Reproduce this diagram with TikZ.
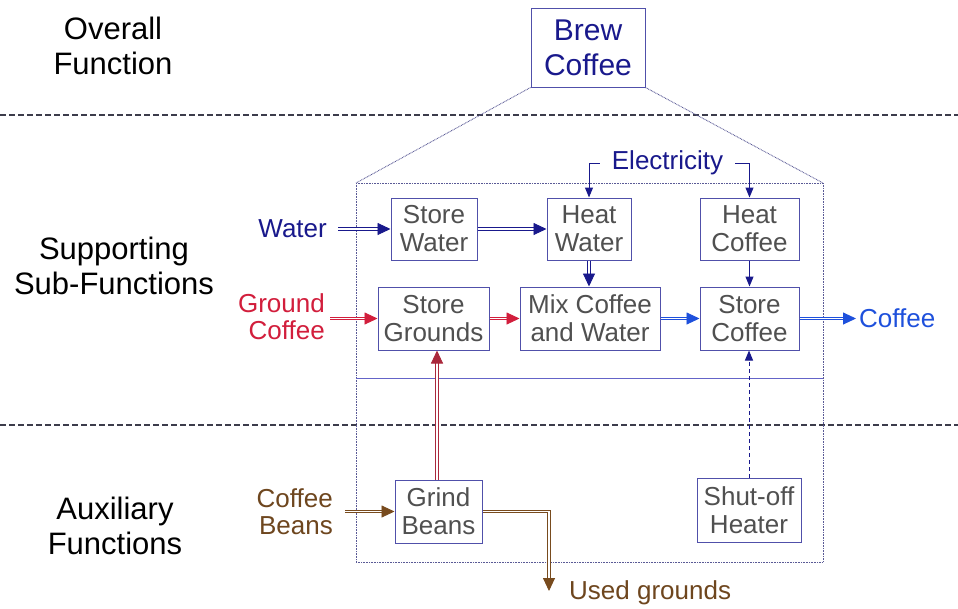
\documentclass[tikz,border=0pt]{standalone}
\usepackage{fontspec}
\setmainfont{Liberation Sans}
\usetikzlibrary{arrows.meta}
\definecolor{navy}{RGB}{25,25,140}
\definecolor{boxline}{RGB}{80,80,170}
\definecolor{boxtext}{RGB}{80,80,80}
\definecolor{redc}{RGB}{210,30,60}
\definecolor{maroon}{RGB}{170,40,60}
\definecolor{browntext}{RGB}{110,70,30}
\definecolor{brownline}{RGB}{120,75,30}
\definecolor{bblue}{RGB}{30,80,220}
\definecolor{dotc}{RGB}{90,90,150}
\definecolor{innerc}{RGB}{100,100,200}
\definecolor{dashc}{RGB}{60,60,75}
\begin{document}
\begin{tikzpicture}[x=1pt,y=-1pt,
  fbox/.style={draw=boxline, line width=1pt, text=boxtext, font=\fontsize{26}{28}\selectfont, align=center, inner sep=0pt},
  lab/.style={font=\fontsize{31}{35}\selectfont, align=center, text=black, inner sep=0pt},
  flow/.style={font=\fontsize{26}{27}\selectfont, inner sep=0pt},
  dbl/.style={double distance=1.6pt, line width=0.9pt, -{Triangle[length=13pt,width=12pt]}},
  sgl/.style={line width=1pt, -{Triangle[length=10pt,width=8pt]}},
  dotbox/.style={draw=dotc, line width=0.9pt, dash pattern=on 0.8pt off 0.8pt},
  sep/.style={draw=dashc, line width=1.2pt, dash pattern=on 5.5pt off 3.5pt}]
\path[use as bounding box, fill=white] (0,0) rectangle (958,608);

% separators
\draw[sep] (0,115) -- (958,115);
\draw[sep] (0,425) -- (958,425);

% left labels
\node[lab] (l1) at (113,46) {Overall\\Function};
\node[lab] (l2) at (114,266) {Supporting\\Sub-Functions};
\node[lab] (l3) at (115,526) {Auxiliary\\Functions};

% overall
\node[fbox, minimum width=114pt, minimum height=79pt, text=navy, font=\fontsize{30}{35}\selectfont] (brew) at (588,47.5) {Brew\\Coffee};

% system boundary
\draw[dotbox] (356,183) rectangle (823,562);
\draw[dotbox] (brew.south west) -- (356,183);
\draw[dotbox] (brew.south east) -- (823,183);
\draw[draw=innerc, line width=1pt] (356,378) -- (823,378);

% function boxes
\node[fbox, minimum width=86pt, minimum height=62pt] (sw) at (434,229) {Store\\Water};
\node[fbox, minimum width=84pt, minimum height=62pt] (hw) at (589,229) {Heat\\Water};
\node[fbox, minimum width=99pt, minimum height=62pt] (hc) at (749.5,229) {Heat\\Coffee};
\node[fbox, minimum width=111pt, minimum height=63pt] (sg) at (433.5,318.5) {Store\\Grounds};
\node[fbox, minimum width=140pt, minimum height=63pt] (mix) at (590,318.5) {Mix Coffee\\and Water};
\node[fbox, minimum width=99pt, minimum height=63pt] (sc) at (749.5,318.5) {Store\\Coffee};
\node[fbox, minimum width=87pt, minimum height=63pt] (gb) at (438.5,511.5) {Grind\\Beans};
\node[fbox, minimum width=104pt, minimum height=64pt] (sh) at (749,510) {Shut-off\\Heater};

% flow labels
\node[flow, text=navy, anchor=east] (water) at (327,229) {Water};
\node[flow, text=redc, anchor=east, align=right] (gc) at (325,317) {Ground\\Coffee};
\node[flow, text=browntext, anchor=east, align=right] (cb) at (333,512) {Coffee\\Beans};
\node[flow, text=navy] (elec) at (667.5,163) {Electricity};
\node[flow, text=bblue, anchor=west] (cout) at (859,318) {Coffee};
\node[flow, text=browntext, anchor=west] (used) at (569,593) {Used grounds};

\coordinate (win) at (338,229);
\coordinate (gcin) at (330,318.5);
\coordinate (cbin) at (345,511.5);
\coordinate (ugend) at (549,591);
\coordinate (coutend) at (856,318.5);

% flows
\draw[dbl, navy] (win) -- (sw.west);
\draw[dbl, navy] (sw.east) -- (hw.west);
\draw[dbl, navy] (hw.south) -- (hw.south |- mix.north);
\draw[sgl, navy] ([xshift=-12pt]elec.west) -| (hw.north);
\draw[sgl, navy] ([xshift=12pt]elec.east) -| (hc.north);
\draw[sgl, navy] (hc.south) -- (sc.north);
\draw[dbl, bblue] (mix.east) -- (sc.west);
\draw[dbl, bblue] (sc.east) -- (coutend);
\draw[dbl, redc] (gcin) -- (sg.west);
\draw[dbl, redc] (sg.east) -- (mix.west);
\draw[dbl, maroon] (gb.north -| 437,0) -- (sg.south -| 437,0);
\draw[dbl, brownline] (cbin) -- (gb.west);
\draw[dbl, brownline] (gb.east) -| (ugend);
\draw[sgl, navy, dash pattern=on 4pt off 3pt] (sh.north) -- (sh.north |- sc.south);
\end{tikzpicture}
\end{document}
